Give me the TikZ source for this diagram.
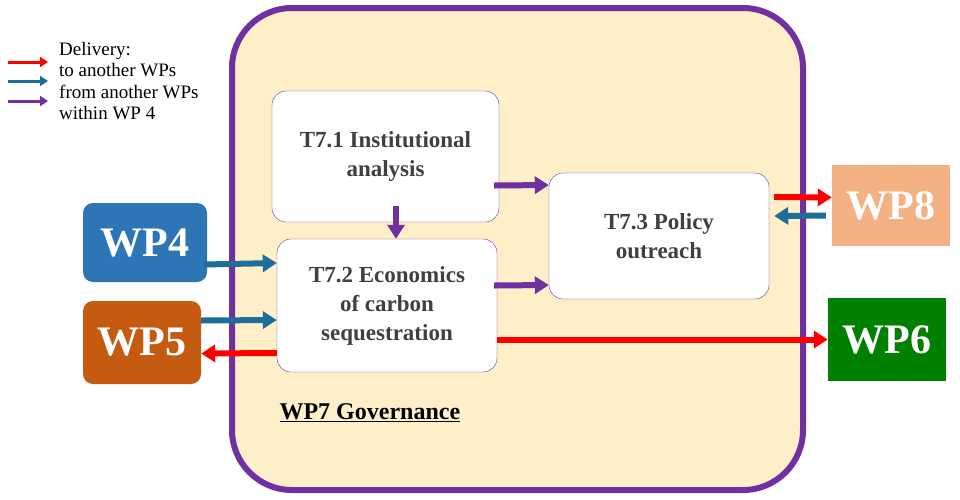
\documentclass[tikz,border=0pt]{standalone}
\usepackage{fontspec}
\setmainfont{Liberation Serif}
\usetikzlibrary{arrows.meta}
\definecolor{cream}{HTML}{FDEFC8}
\definecolor{govpurple}{HTML}{7030A0}
\definecolor{wpblue}{HTML}{2E75B6}
\definecolor{wporange}{HTML}{C55A11}
\definecolor{wppeach}{HTML}{F4B183}
\definecolor{wpgreen}{HTML}{008000}
\definecolor{arrblue}{HTML}{1F6E9A}
\tikzset{
  taskbox/.style={draw=govpurple,fill=white,rounded corners=14pt,minimum width=224pt,minimum height=130pt,align=center,text=black!75,font=\fontsize{23}{29}\selectfont\bfseries},
  wpbox/.style={minimum width=120pt,minimum height=80pt,text=white,font=\fontsize{42}{42}\selectfont\bfseries},
  flow/.style={line width=6pt,-{Triangle[length=14pt,width=17pt]}}
}
\begin{document}
\begin{tikzpicture}[x=1pt,y=-1pt]
\useasboundingbox (0,0) rectangle (960,499);
% WP7 frame
\draw[govpurple,line width=6pt,fill=cream,rounded corners=60pt] (232,8) rectangle (803,490);
\node[font=\fontsize{24}{28}\selectfont\bfseries,anchor=west] (gov) at (276,413) {\underline{WP7 Governance}};

% tasks
\node[taskbox,minimum width=227pt,minimum height=131pt] (t71) at (385.5,156.5) {T7.1 Institutional\\analysis};
\node[taskbox,minimum width=220pt,minimum height=133pt] (t72) at (387,305.5) {T7.2 Economics\\of carbon\\sequestration};
\node[taskbox,minimum width=220pt,minimum height=126pt] (t73) at (659,236) {T7.3 Policy\\outreach};

% work packages
\node[wpbox,fill=wpblue,rounded corners=10pt,minimum width=124pt,minimum height=79pt] (wp4) at (145,242.5) {WP4};
\node[wpbox,fill=wporange,rounded corners=10pt,minimum width=118pt,minimum height=83pt] (wp5) at (142,342.5) {WP5};
\node[wpbox,fill=wppeach,minimum width=118pt,minimum height=81pt] (wp8) at (891,205.5) {WP8};
\node[wpbox,fill=wpgreen,minimum width=118pt,minimum height=83pt] (wp6) at (887,339.5) {WP6};

% flows inside WP7
\draw[flow,govpurple] ([xshift=-5pt,yshift=-29pt]t71.east) -- (t73.west |- 0,185);
\draw[flow,govpurple] (396,206) -- (t72.north -| 396,0);
\draw[flow,govpurple] ([xshift=-3pt,yshift=20pt]t72.east) -- (t73.west |- 0,285);

% flows from other WPs
\draw[flow,arrblue] ([xshift=-3pt,yshift=-22pt]wp4.east) -- (t72.west |- 0,263);
\draw[flow,arrblue] ([yshift=22pt]wp5.east) -- (t72.west |- 0,320);
\draw[flow,arrblue] ([xshift=-6pt,yshift=-10pt]wp8.west) -- ([xshift=5pt]t73.east |- 0,216);

% deliveries
\draw[flow,red] (t72.west |- 0,353) -- ([yshift=-11pt]wp5.east);
\draw[flow,red] ([xshift=5pt]t73.east |- 0,197) -- ([yshift=8pt]wp8.west);
\draw[flow,red] (t72.east |- wp6.west) -- (wp6.west);

% legend
\foreach \col/\y in {red/62, arrblue/81, govpurple/101}
  \draw[line width=3pt,-{Triangle[length=8pt,width=10pt]},\col] (8,\y) -- (48,\y);
\node[anchor=north west,align=left,font=\fontsize{19}{21.5}\selectfont,inner sep=0pt] (leg) at (59,42)
  {Delivery:\\to another WPs\\from another WPs\\within WP 4};
\end{tikzpicture}
\end{document}
